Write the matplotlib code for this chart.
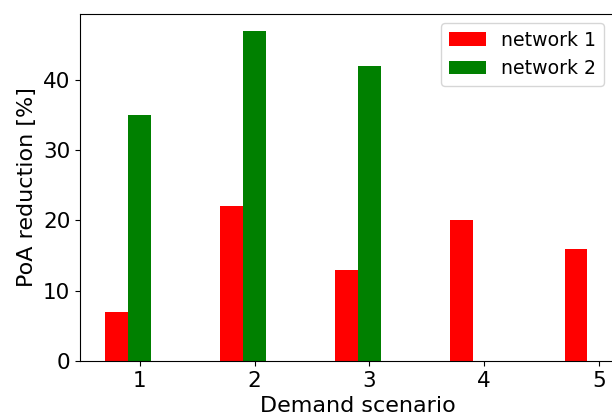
import numpy as np
import matplotlib
matplotlib.use("Agg")
import matplotlib.pyplot as plt

scenarios = [1, 2, 3, 4, 5]
network_1 = [7, 22, 13, 20, 16]
network_2 = [35, 47, 42, 0, 0]

x = np.array(scenarios)
width = 0.2

fig = plt.figure(figsize=(6.12, 4.2), dpi=100)
# axes runs past the right edge, as in the cropped original
ax = fig.add_axes([0.1307, 0.1405, 0.908, 0.826])

ax.bar(x - width, network_1, width, color="red", label="network 1")
ax.bar(x, network_2, width, color="green", label="network 2")

ax.set_xticks(x)
ax.tick_params(labelsize=15.5)
ax.set_xlabel("Demand scenario", fontsize=16)
ax.set_ylabel("PoA reduction [%]", fontsize=16)

ax.legend(loc="upper right", bbox_to_anchor=(0.987, 0.945),
          bbox_transform=fig.transFigure, borderaxespad=0, fontsize=13.6)

fig.savefig("out.png", dpi=100)
